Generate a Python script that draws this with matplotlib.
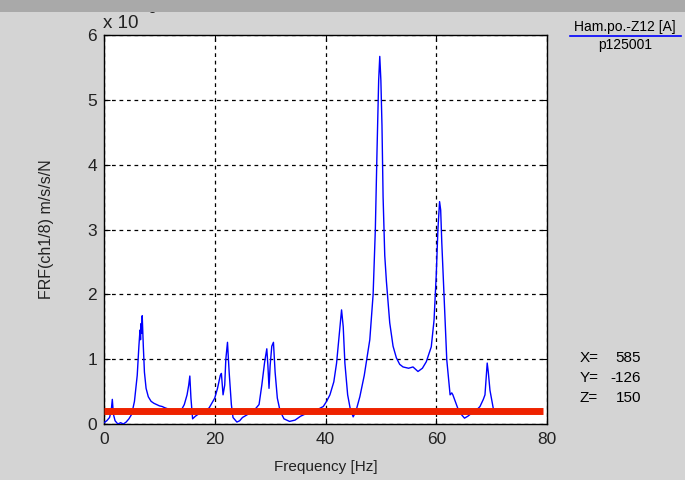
import matplotlib
matplotlib.use("Agg")
import matplotlib.pyplot as plt
from matplotlib.patches import Rectangle

plt.rcParams['font.family'] = ['Liberation Sans', 'DejaVu Sans']

freq = [0.0, 0.5, 1.0, 1.3, 1.5, 1.7, 2.0, 2.5, 3.0, 3.5, 4.0, 4.5, 5.0, 5.5,
        6.0, 6.3, 6.5, 6.6, 6.7, 6.8, 6.9, 7.1, 7.3, 7.6, 8.0, 8.5, 9.0, 9.5,
        10.0, 10.5, 11.0, 12.0, 13.0, 14.0, 14.5, 15.0, 15.3, 15.5, 15.7, 16.0,
        16.5, 17.0, 18.0, 19.0, 20.0, 20.5, 21.0, 21.2, 21.5, 21.8, 22.0, 22.3,
        22.6, 23.0, 23.3, 24.0, 24.5, 25.0, 26.0, 27.0, 28.0, 28.5, 29.0, 29.4,
        29.6, 29.8, 30.0, 30.3, 30.6, 30.9, 31.3, 31.8, 32.5, 33.5, 34.5, 35.5,
        36.5, 37.5, 38.5, 39.6, 40.2, 40.8, 41.5, 42.0, 42.5, 42.9, 43.2, 43.5,
        44.0, 44.5, 45.0, 45.5, 46.2, 47.0, 48.0, 48.6, 49.0, 49.3, 49.6, 49.8,
        50.0, 50.2, 50.4, 50.7, 51.0, 51.6, 52.2, 52.8, 53.4, 54.0, 55.0, 55.8,
        56.7, 57.5, 58.2, 59.1, 59.6, 60.0, 60.3, 60.6, 60.8, 61.0, 61.3, 61.9,
        62.5, 62.8, 63.0, 63.9, 64.5, 65.1, 65.7, 66.3, 67.1, 67.9, 68.5, 68.8,
        69.0, 69.2, 69.4, 69.7, 70.3, 71.0, 71.5, 73.6]
frf = [0.02, 0.05, 0.1, 0.2, 0.38, 0.15, 0.05, 0.0, 0.02, 0.0, 0.03, 0.08, 0.15, 0.35,
       0.75, 1.2, 1.45, 1.3, 1.55, 1.4, 1.67, 1.2, 0.8, 0.55, 0.42, 0.35, 0.32, 0.3,
       0.28, 0.27, 0.25, 0.22, 0.2, 0.22, 0.3, 0.45, 0.6, 0.74, 0.4, 0.08,
       0.12, 0.15, 0.18, 0.25, 0.4, 0.55, 0.75, 0.78, 0.45, 0.6, 1.0, 1.26,
       0.8, 0.3, 0.1, 0.03, 0.05, 0.1, 0.15, 0.2, 0.3, 0.6, 0.95, 1.16,
       0.9, 0.55, 0.9, 1.2, 1.26, 0.8, 0.4, 0.2, 0.08, 0.04, 0.06, 0.12,
       0.16, 0.18, 0.22, 0.27, 0.35, 0.45, 0.65, 0.94, 1.4, 1.76, 1.5, 0.94,
       0.45, 0.22, 0.11, 0.2, 0.42, 0.75, 1.3, 2.0, 3.0, 4.2, 5.3, 5.67,
       5.3, 4.6, 3.5, 2.6, 2.2, 1.56, 1.2, 1.02, 0.92, 0.88, 0.86, 0.88,
       0.81, 0.86, 0.96, 1.19, 1.6, 2.3, 3.0, 3.43, 3.3, 2.8, 2.2, 0.99,
       0.45, 0.48, 0.45, 0.24, 0.15, 0.09, 0.12, 0.16, 0.2, 0.27, 0.38, 0.45,
       0.7, 0.94, 0.8, 0.52, 0.24, 0.18, 0.16, 0.16]

threshold_x = [0.0, 79.3]
threshold_y = [0.2, 0.2]

xticks = [0, 20, 40, 60, 80]
yticks = [0, 1, 2, 3, 4, 5, 6]

bg = '#d4d4d4'
fig = plt.figure(figsize=(6.85, 4.8), dpi=100, facecolor=bg)
ax = fig.add_axes([104/685, 1-424/480, 443/685, 389/480])
ax.set_facecolor('white')
ax.plot(freq, frf, color='#0000ff', lw=1.0, zorder=3)
ax.plot(threshold_x, threshold_y, color='#ee2200', lw=5, solid_capstyle='butt', zorder=4)
ax.set_xlim(0, 80)
ax.set_ylim(0, 6)
ax.set_xticks(xticks)
ax.set_yticks(yticks)
ax.grid(True, color='black', linestyle=(0, (3, 3)), lw=0.9)
ax.tick_params(direction='in', length=4, top=True, right=True, labelsize=12.5,
               colors='black', width=0.8, labelcolor='#222222')
ax.tick_params(axis='x', pad=6)
ax.tick_params(axis='y', pad=5)
for s in ax.spines.values():
    s.set_color('black')
    s.set_linewidth(1.0)
ax.set_xlabel('Frequency [Hz]', fontsize=11, labelpad=9, color='#222222')
ax.set_ylabel('FRF(ch1/8) m/s/s/N', fontsize=11.5, labelpad=24, color='#222222')

# exponent label (partly hidden by top band)
fig.text(103/685, 1-28/480, 'x 10', fontsize=13.5, ha='left', va='baseline',
         zorder=1, color='#222222')
fig.text(144/685, 1-13/480, '-3', fontsize=10, ha='left', va='baseline', zorder=1,
         color='#222222')
fig.patches.append(Rectangle((0, 1-12/480), 1, 12/480, transform=fig.transFigure,
                             facecolor='#a9a9a9', edgecolor='none', zorder=10))

# legend-like label
fig.text(625/685, 1-27/480, 'Ham.po.-Z12 [A]', fontsize=10, ha='center', va='center')
fig.add_artist(plt.Line2D([570/685, 681/685], [1-36/480, 1-36/480],
                          color='#0000ff', lw=1.2, transform=fig.transFigure))
fig.text(625/685, 1-45/480, 'p125001', fontsize=10, ha='center', va='center')

# cursor readout
for i, (k, v) in enumerate([('X=', '585'), ('Y=', '-126'), ('Z=', '150')]):
    y = 1 - (358 + 20*i)/480
    fig.text(580/685, y, k, fontsize=11, ha='left', va='center')
    fig.text(641/685, y, v, fontsize=11, ha='right', va='center')

fig.savefig('out.png', dpi=100, facecolor=bg)
